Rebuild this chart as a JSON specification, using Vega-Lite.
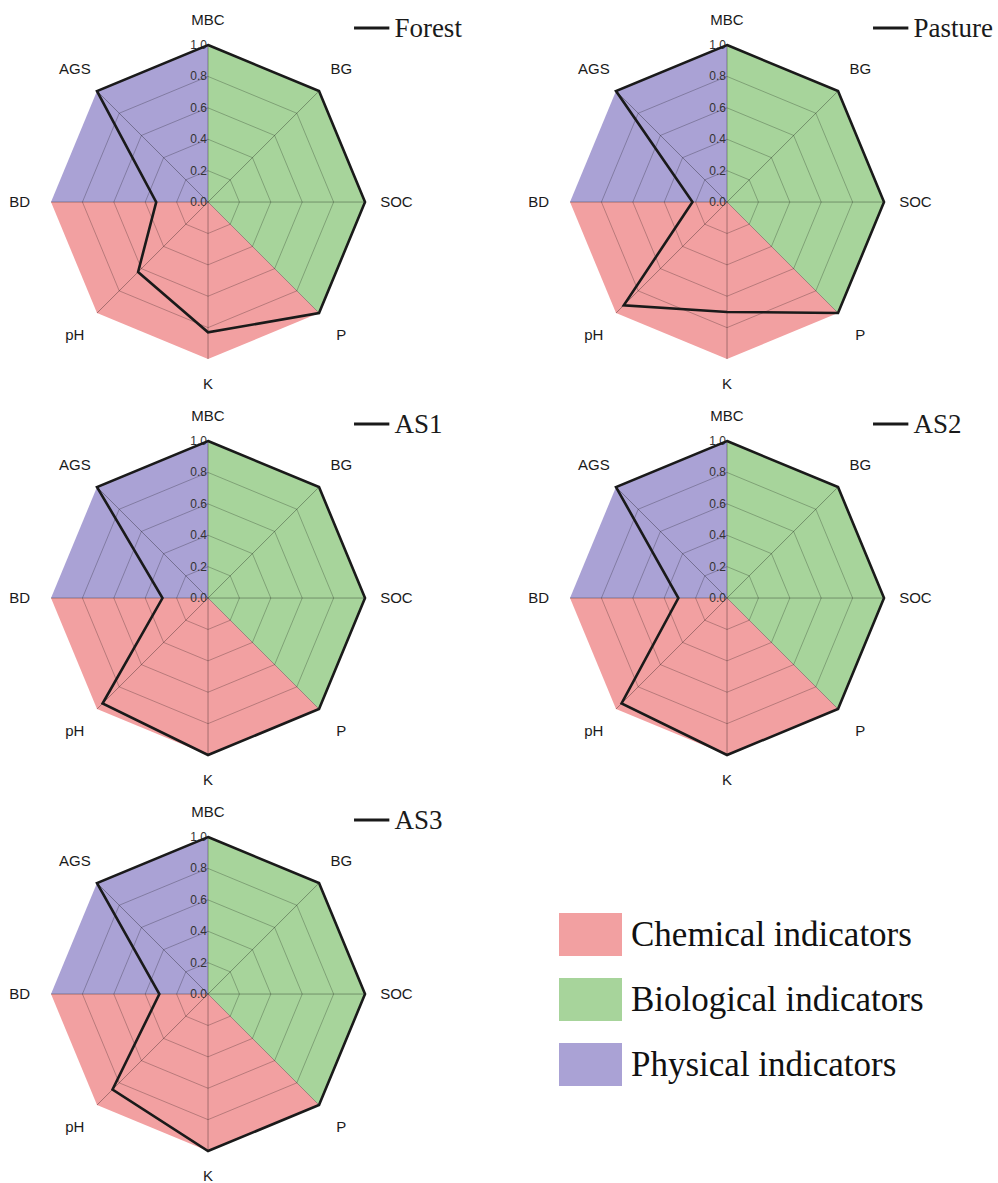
{
"$schema":"https://vega.github.io/schema/vega-lite/v6.json",
"padding":0,
"background":"#ffffff",
"config":{"view":{"stroke":null},"axis":{"disable":true}},
"datasets":{
"axes":[{"axis":"MBC","idx":0},{"axis":"BG","idx":1},{"axis":"SOC","idx":2},{"axis":"P","idx":3},{"axis":"K","idx":4},{"axis":"pH","idx":5},{"axis":"BD","idx":6},{"axis":"AGS","idx":7}],
"sectors":[
{"group":"Biological indicators","seq":0,"axis":"MBC","r":1},{"group":"Biological indicators","seq":1,"axis":"BG","r":1},{"group":"Biological indicators","seq":2,"axis":"SOC","r":1},{"group":"Biological indicators","seq":3,"axis":"P","r":1},{"group":"Biological indicators","seq":4,"axis":"P","r":0},
{"group":"Chemical indicators","seq":0,"axis":"P","r":1},{"group":"Chemical indicators","seq":1,"axis":"K","r":1},{"group":"Chemical indicators","seq":2,"axis":"pH","r":1},{"group":"Chemical indicators","seq":3,"axis":"BD","r":1},{"group":"Chemical indicators","seq":4,"axis":"BD","r":0},
{"group":"Physical indicators","seq":0,"axis":"BD","r":1},{"group":"Physical indicators","seq":1,"axis":"AGS","r":1},{"group":"Physical indicators","seq":2,"axis":"MBC","r":1},{"group":"Physical indicators","seq":3,"axis":"MBC","r":0}],
"grid":[
{"r":0.2,"axis":"MBC"},{"r":0.2,"axis":"BG"},{"r":0.2,"axis":"SOC"},{"r":0.2,"axis":"P"},{"r":0.2,"axis":"K"},{"r":0.2,"axis":"pH"},{"r":0.2,"axis":"BD"},{"r":0.2,"axis":"AGS"},
{"r":0.4,"axis":"MBC"},{"r":0.4,"axis":"BG"},{"r":0.4,"axis":"SOC"},{"r":0.4,"axis":"P"},{"r":0.4,"axis":"K"},{"r":0.4,"axis":"pH"},{"r":0.4,"axis":"BD"},{"r":0.4,"axis":"AGS"},
{"r":0.6,"axis":"MBC"},{"r":0.6,"axis":"BG"},{"r":0.6,"axis":"SOC"},{"r":0.6,"axis":"P"},{"r":0.6,"axis":"K"},{"r":0.6,"axis":"pH"},{"r":0.6,"axis":"BD"},{"r":0.6,"axis":"AGS"},
{"r":0.8,"axis":"MBC"},{"r":0.8,"axis":"BG"},{"r":0.8,"axis":"SOC"},{"r":0.8,"axis":"P"},{"r":0.8,"axis":"K"},{"r":0.8,"axis":"pH"},{"r":0.8,"axis":"BD"},{"r":0.8,"axis":"AGS"}],
"ticks":[{"t":0},{"t":0.2},{"t":0.4},{"t":0.6},{"t":0.8},{"t":1.0}],
"radar":[
{"site":"Forest","axis":"MBC","value":1},{"site":"Forest","axis":"BG","value":1},{"site":"Forest","axis":"SOC","value":1},{"site":"Forest","axis":"P","value":1},{"site":"Forest","axis":"K","value":0.83},{"site":"Forest","axis":"pH","value":0.63},{"site":"Forest","axis":"BD","value":0.33},{"site":"Forest","axis":"AGS","value":1},
{"site":"Pasture","axis":"MBC","value":1},{"site":"Pasture","axis":"BG","value":1},{"site":"Pasture","axis":"SOC","value":1},{"site":"Pasture","axis":"P","value":1},{"site":"Pasture","axis":"K","value":0.70},{"site":"Pasture","axis":"pH","value":0.93},{"site":"Pasture","axis":"BD","value":0.22},{"site":"Pasture","axis":"AGS","value":1},
{"site":"AS1","axis":"MBC","value":1},{"site":"AS1","axis":"BG","value":1},{"site":"AS1","axis":"SOC","value":1},{"site":"AS1","axis":"P","value":1},{"site":"AS1","axis":"K","value":1},{"site":"AS1","axis":"pH","value":0.95},{"site":"AS1","axis":"BD","value":0.29},{"site":"AS1","axis":"AGS","value":1},
{"site":"AS2","axis":"MBC","value":1},{"site":"AS2","axis":"BG","value":1},{"site":"AS2","axis":"SOC","value":1},{"site":"AS2","axis":"P","value":1},{"site":"AS2","axis":"K","value":1},{"site":"AS2","axis":"pH","value":0.95},{"site":"AS2","axis":"BD","value":0.31},{"site":"AS2","axis":"AGS","value":1},
{"site":"AS3","axis":"MBC","value":1},{"site":"AS3","axis":"BG","value":1},{"site":"AS3","axis":"SOC","value":1},{"site":"AS3","axis":"P","value":1},{"site":"AS3","axis":"K","value":1},{"site":"AS3","axis":"pH","value":0.86},{"site":"AS3","axis":"BD","value":0.31},{"site":"AS3","axis":"AGS","value":1}]
},
"columns":2,
"spacing":{"row":4,"column":40},
"bounds":"flush",
"concat":[
{"width":479,"height":392,"layer":[
 {"data":{"name":"sectors"},"transform":[{"lookup":"axis","from":{"data":{"name":"axes"},"key":"axis","fields":["idx"]}},{"calculate":"datum.r*sin(datum.idx*PI/4)","as":"px"},{"calculate":"datum.r*cos(datum.idx*PI/4)","as":"py"}],
  "mark":{"type":"line","filled":true,"interpolate":"linear-closed","strokeWidth":0},
  "encoding":{"x":{"field":"px","type":"quantitative","scale":{"domain":[-1.325,1.726],"nice":false,"zero":false}},"y":{"field":"py","type":"quantitative","scale":{"domain":[-1.21,1.287],"nice":false,"zero":false}},
   "color":{"field":"group","type":"nominal","scale":{"domain":["Chemical indicators","Biological indicators","Physical indicators"],"range":["#F2A0A1","#A7D49B","#AAA2D5"]},
    "legend":{"orient":"none","legendX":559,"legendY":903,"title":null,"symbolType":"M-1,-0.68H1V0.68H-1Z","symbolSize":3969,"symbolStrokeWidth":0,"labelFont":"Liberation Serif","labelFontSize":35,"labelColor":"#111111","labelLimit":600,"labelOffset":9,"rowPadding":12,"padding":0}},
   "order":{"field":"seq","type":"quantitative"}}},
 {"data":{"name":"grid"},"transform":[{"lookup":"axis","from":{"data":{"name":"axes"},"key":"axis","fields":["idx"]}},{"calculate":"datum.r*sin(datum.idx*PI/4)","as":"px"},{"calculate":"datum.r*cos(datum.idx*PI/4)","as":"py"}],
  "mark":{"type":"line","interpolate":"linear-closed","color":"#000000","strokeWidth":0.8,"opacity":0.3},
  "encoding":{"x":{"field":"px","type":"quantitative"},"y":{"field":"py","type":"quantitative"},"detail":{"field":"r","type":"nominal"},"order":{"field":"idx","type":"quantitative"}}},
 {"data":{"name":"axes"},"transform":[{"calculate":"sin(datum.idx*PI/4)","as":"px"},{"calculate":"cos(datum.idx*PI/4)","as":"py"}],
  "mark":{"type":"rule","color":"#000000","strokeWidth":0.8,"opacity":0.4},
  "encoding":{"x":{"field":"px","type":"quantitative"},"y":{"field":"py","type":"quantitative"},"x2":{"datum":0},"y2":{"datum":0}}},
 {"data":{"name":"ticks"},"mark":{"type":"text","align":"right","baseline":"middle","dx":-1,"font":"Liberation Sans","fontSize":12,"color":"#333333"},
  "encoding":{"x":{"datum":0,"type":"quantitative"},"y":{"field":"t","type":"quantitative"},"text":{"field":"t","type":"quantitative","format":".1f"}}},
 {"data":{"name":"axes"},"transform":[{"calculate":"(datum.axis=='MBC'||datum.axis=='K')?1.16:1.2","as":"lr"},{"calculate":"datum.lr*sin(datum.idx*PI/4)","as":"px"},{"calculate":"datum.lr*cos(datum.idx*PI/4)","as":"py"}],
  "mark":{"type":"text","font":"Liberation Sans","fontSize":15,"color":"#1a1a1a","baseline":"middle","align":"center"},
  "encoding":{"x":{"field":"px","type":"quantitative"},"y":{"field":"py","type":"quantitative"},"text":{"field":"axis","type":"nominal"}}},
 {"data":{"name":"radar"},"transform":[{"filter":"datum.site=='Forest'"},{"lookup":"axis","from":{"data":{"name":"axes"},"key":"axis","fields":["idx"]}},{"calculate":"datum.value*sin(datum.idx*PI/4)","as":"px"},{"calculate":"datum.value*cos(datum.idx*PI/4)","as":"py"}],
  "mark":{"type":"line","interpolate":"linear-closed","color":"#1a1a1a","strokeWidth":2.6},
  "encoding":{"x":{"field":"px","type":"quantitative"},"y":{"field":"py","type":"quantitative"},"order":{"field":"idx","type":"quantitative"}}},
 {"data":{"name":"radar"},"transform":[{"filter":"datum.site=='Forest' && datum.axis=='MBC'"}],
  "mark":{"type":"rule","color":"#1a1a1a","strokeWidth":3},
  "encoding":{"x":{"datum":0.93,"type":"quantitative"},"x2":{"datum":1.155},"y":{"datum":1.108,"type":"quantitative"}}},
 {"data":{"name":"radar"},"transform":[{"filter":"datum.site=='Forest' && datum.axis=='MBC'"}],
  "mark":{"type":"text","align":"left","baseline":"alphabetic","font":"Liberation Serif","fontSize":27,"color":"#1a1a1a"},
  "encoding":{"x":{"datum":1.187,"type":"quantitative"},"y":{"datum":1.051,"type":"quantitative"},"text":{"field":"site","type":"nominal"}}}
]},
{"width":479,"height":392,"layer":[
 {"data":{"name":"sectors"},"transform":[{"lookup":"axis","from":{"data":{"name":"axes"},"key":"axis","fields":["idx"]}},{"calculate":"datum.r*sin(datum.idx*PI/4)","as":"px"},{"calculate":"datum.r*cos(datum.idx*PI/4)","as":"py"}],
  "mark":{"type":"line","filled":true,"interpolate":"linear-closed","strokeWidth":0},
  "encoding":{"x":{"field":"px","type":"quantitative","scale":{"domain":[-1.325,1.726],"nice":false,"zero":false}},"y":{"field":"py","type":"quantitative","scale":{"domain":[-1.21,1.287],"nice":false,"zero":false}},
   "color":{"field":"group","type":"nominal","scale":{"domain":["Chemical indicators","Biological indicators","Physical indicators"],"range":["#F2A0A1","#A7D49B","#AAA2D5"]}},
   "order":{"field":"seq","type":"quantitative"}}},
 {"data":{"name":"grid"},"transform":[{"lookup":"axis","from":{"data":{"name":"axes"},"key":"axis","fields":["idx"]}},{"calculate":"datum.r*sin(datum.idx*PI/4)","as":"px"},{"calculate":"datum.r*cos(datum.idx*PI/4)","as":"py"}],
  "mark":{"type":"line","interpolate":"linear-closed","color":"#000000","strokeWidth":0.8,"opacity":0.3},
  "encoding":{"x":{"field":"px","type":"quantitative"},"y":{"field":"py","type":"quantitative"},"detail":{"field":"r","type":"nominal"},"order":{"field":"idx","type":"quantitative"}}},
 {"data":{"name":"axes"},"transform":[{"calculate":"sin(datum.idx*PI/4)","as":"px"},{"calculate":"cos(datum.idx*PI/4)","as":"py"}],
  "mark":{"type":"rule","color":"#000000","strokeWidth":0.8,"opacity":0.4},
  "encoding":{"x":{"field":"px","type":"quantitative"},"y":{"field":"py","type":"quantitative"},"x2":{"datum":0},"y2":{"datum":0}}},
 {"data":{"name":"ticks"},"mark":{"type":"text","align":"right","baseline":"middle","dx":-1,"font":"Liberation Sans","fontSize":12,"color":"#333333"},
  "encoding":{"x":{"datum":0,"type":"quantitative"},"y":{"field":"t","type":"quantitative"},"text":{"field":"t","type":"quantitative","format":".1f"}}},
 {"data":{"name":"axes"},"transform":[{"calculate":"(datum.axis=='MBC'||datum.axis=='K')?1.16:1.2","as":"lr"},{"calculate":"datum.lr*sin(datum.idx*PI/4)","as":"px"},{"calculate":"datum.lr*cos(datum.idx*PI/4)","as":"py"}],
  "mark":{"type":"text","font":"Liberation Sans","fontSize":15,"color":"#1a1a1a","baseline":"middle","align":"center"},
  "encoding":{"x":{"field":"px","type":"quantitative"},"y":{"field":"py","type":"quantitative"},"text":{"field":"axis","type":"nominal"}}},
 {"data":{"name":"radar"},"transform":[{"filter":"datum.site=='Pasture'"},{"lookup":"axis","from":{"data":{"name":"axes"},"key":"axis","fields":["idx"]}},{"calculate":"datum.value*sin(datum.idx*PI/4)","as":"px"},{"calculate":"datum.value*cos(datum.idx*PI/4)","as":"py"}],
  "mark":{"type":"line","interpolate":"linear-closed","color":"#1a1a1a","strokeWidth":2.6},
  "encoding":{"x":{"field":"px","type":"quantitative"},"y":{"field":"py","type":"quantitative"},"order":{"field":"idx","type":"quantitative"}}},
 {"data":{"name":"radar"},"transform":[{"filter":"datum.site=='Pasture' && datum.axis=='MBC'"}],
  "mark":{"type":"rule","color":"#1a1a1a","strokeWidth":3},
  "encoding":{"x":{"datum":0.93,"type":"quantitative"},"x2":{"datum":1.155},"y":{"datum":1.108,"type":"quantitative"}}},
 {"data":{"name":"radar"},"transform":[{"filter":"datum.site=='Pasture' && datum.axis=='MBC'"}],
  "mark":{"type":"text","align":"left","baseline":"alphabetic","font":"Liberation Serif","fontSize":27,"color":"#1a1a1a"},
  "encoding":{"x":{"datum":1.187,"type":"quantitative"},"y":{"datum":1.051,"type":"quantitative"},"text":{"field":"site","type":"nominal"}}}
]},
{"width":479,"height":392,"layer":[
 {"data":{"name":"sectors"},"transform":[{"lookup":"axis","from":{"data":{"name":"axes"},"key":"axis","fields":["idx"]}},{"calculate":"datum.r*sin(datum.idx*PI/4)","as":"px"},{"calculate":"datum.r*cos(datum.idx*PI/4)","as":"py"}],
  "mark":{"type":"line","filled":true,"interpolate":"linear-closed","strokeWidth":0},
  "encoding":{"x":{"field":"px","type":"quantitative","scale":{"domain":[-1.325,1.726],"nice":false,"zero":false}},"y":{"field":"py","type":"quantitative","scale":{"domain":[-1.21,1.287],"nice":false,"zero":false}},
   "color":{"field":"group","type":"nominal","scale":{"domain":["Chemical indicators","Biological indicators","Physical indicators"],"range":["#F2A0A1","#A7D49B","#AAA2D5"]}},
   "order":{"field":"seq","type":"quantitative"}}},
 {"data":{"name":"grid"},"transform":[{"lookup":"axis","from":{"data":{"name":"axes"},"key":"axis","fields":["idx"]}},{"calculate":"datum.r*sin(datum.idx*PI/4)","as":"px"},{"calculate":"datum.r*cos(datum.idx*PI/4)","as":"py"}],
  "mark":{"type":"line","interpolate":"linear-closed","color":"#000000","strokeWidth":0.8,"opacity":0.3},
  "encoding":{"x":{"field":"px","type":"quantitative"},"y":{"field":"py","type":"quantitative"},"detail":{"field":"r","type":"nominal"},"order":{"field":"idx","type":"quantitative"}}},
 {"data":{"name":"axes"},"transform":[{"calculate":"sin(datum.idx*PI/4)","as":"px"},{"calculate":"cos(datum.idx*PI/4)","as":"py"}],
  "mark":{"type":"rule","color":"#000000","strokeWidth":0.8,"opacity":0.4},
  "encoding":{"x":{"field":"px","type":"quantitative"},"y":{"field":"py","type":"quantitative"},"x2":{"datum":0},"y2":{"datum":0}}},
 {"data":{"name":"ticks"},"mark":{"type":"text","align":"right","baseline":"middle","dx":-1,"font":"Liberation Sans","fontSize":12,"color":"#333333"},
  "encoding":{"x":{"datum":0,"type":"quantitative"},"y":{"field":"t","type":"quantitative"},"text":{"field":"t","type":"quantitative","format":".1f"}}},
 {"data":{"name":"axes"},"transform":[{"calculate":"(datum.axis=='MBC'||datum.axis=='K')?1.16:1.2","as":"lr"},{"calculate":"datum.lr*sin(datum.idx*PI/4)","as":"px"},{"calculate":"datum.lr*cos(datum.idx*PI/4)","as":"py"}],
  "mark":{"type":"text","font":"Liberation Sans","fontSize":15,"color":"#1a1a1a","baseline":"middle","align":"center"},
  "encoding":{"x":{"field":"px","type":"quantitative"},"y":{"field":"py","type":"quantitative"},"text":{"field":"axis","type":"nominal"}}},
 {"data":{"name":"radar"},"transform":[{"filter":"datum.site=='AS1'"},{"lookup":"axis","from":{"data":{"name":"axes"},"key":"axis","fields":["idx"]}},{"calculate":"datum.value*sin(datum.idx*PI/4)","as":"px"},{"calculate":"datum.value*cos(datum.idx*PI/4)","as":"py"}],
  "mark":{"type":"line","interpolate":"linear-closed","color":"#1a1a1a","strokeWidth":2.6},
  "encoding":{"x":{"field":"px","type":"quantitative"},"y":{"field":"py","type":"quantitative"},"order":{"field":"idx","type":"quantitative"}}},
 {"data":{"name":"radar"},"transform":[{"filter":"datum.site=='AS1' && datum.axis=='MBC'"}],
  "mark":{"type":"rule","color":"#1a1a1a","strokeWidth":3},
  "encoding":{"x":{"datum":0.93,"type":"quantitative"},"x2":{"datum":1.155},"y":{"datum":1.108,"type":"quantitative"}}},
 {"data":{"name":"radar"},"transform":[{"filter":"datum.site=='AS1' && datum.axis=='MBC'"}],
  "mark":{"type":"text","align":"left","baseline":"alphabetic","font":"Liberation Serif","fontSize":27,"color":"#1a1a1a"},
  "encoding":{"x":{"datum":1.187,"type":"quantitative"},"y":{"datum":1.051,"type":"quantitative"},"text":{"field":"site","type":"nominal"}}}
]},
{"width":479,"height":392,"layer":[
 {"data":{"name":"sectors"},"transform":[{"lookup":"axis","from":{"data":{"name":"axes"},"key":"axis","fields":["idx"]}},{"calculate":"datum.r*sin(datum.idx*PI/4)","as":"px"},{"calculate":"datum.r*cos(datum.idx*PI/4)","as":"py"}],
  "mark":{"type":"line","filled":true,"interpolate":"linear-closed","strokeWidth":0},
  "encoding":{"x":{"field":"px","type":"quantitative","scale":{"domain":[-1.325,1.726],"nice":false,"zero":false}},"y":{"field":"py","type":"quantitative","scale":{"domain":[-1.21,1.287],"nice":false,"zero":false}},
   "color":{"field":"group","type":"nominal","scale":{"domain":["Chemical indicators","Biological indicators","Physical indicators"],"range":["#F2A0A1","#A7D49B","#AAA2D5"]}},
   "order":{"field":"seq","type":"quantitative"}}},
 {"data":{"name":"grid"},"transform":[{"lookup":"axis","from":{"data":{"name":"axes"},"key":"axis","fields":["idx"]}},{"calculate":"datum.r*sin(datum.idx*PI/4)","as":"px"},{"calculate":"datum.r*cos(datum.idx*PI/4)","as":"py"}],
  "mark":{"type":"line","interpolate":"linear-closed","color":"#000000","strokeWidth":0.8,"opacity":0.3},
  "encoding":{"x":{"field":"px","type":"quantitative"},"y":{"field":"py","type":"quantitative"},"detail":{"field":"r","type":"nominal"},"order":{"field":"idx","type":"quantitative"}}},
 {"data":{"name":"axes"},"transform":[{"calculate":"sin(datum.idx*PI/4)","as":"px"},{"calculate":"cos(datum.idx*PI/4)","as":"py"}],
  "mark":{"type":"rule","color":"#000000","strokeWidth":0.8,"opacity":0.4},
  "encoding":{"x":{"field":"px","type":"quantitative"},"y":{"field":"py","type":"quantitative"},"x2":{"datum":0},"y2":{"datum":0}}},
 {"data":{"name":"ticks"},"mark":{"type":"text","align":"right","baseline":"middle","dx":-1,"font":"Liberation Sans","fontSize":12,"color":"#333333"},
  "encoding":{"x":{"datum":0,"type":"quantitative"},"y":{"field":"t","type":"quantitative"},"text":{"field":"t","type":"quantitative","format":".1f"}}},
 {"data":{"name":"axes"},"transform":[{"calculate":"(datum.axis=='MBC'||datum.axis=='K')?1.16:1.2","as":"lr"},{"calculate":"datum.lr*sin(datum.idx*PI/4)","as":"px"},{"calculate":"datum.lr*cos(datum.idx*PI/4)","as":"py"}],
  "mark":{"type":"text","font":"Liberation Sans","fontSize":15,"color":"#1a1a1a","baseline":"middle","align":"center"},
  "encoding":{"x":{"field":"px","type":"quantitative"},"y":{"field":"py","type":"quantitative"},"text":{"field":"axis","type":"nominal"}}},
 {"data":{"name":"radar"},"transform":[{"filter":"datum.site=='AS2'"},{"lookup":"axis","from":{"data":{"name":"axes"},"key":"axis","fields":["idx"]}},{"calculate":"datum.value*sin(datum.idx*PI/4)","as":"px"},{"calculate":"datum.value*cos(datum.idx*PI/4)","as":"py"}],
  "mark":{"type":"line","interpolate":"linear-closed","color":"#1a1a1a","strokeWidth":2.6},
  "encoding":{"x":{"field":"px","type":"quantitative"},"y":{"field":"py","type":"quantitative"},"order":{"field":"idx","type":"quantitative"}}},
 {"data":{"name":"radar"},"transform":[{"filter":"datum.site=='AS2' && datum.axis=='MBC'"}],
  "mark":{"type":"rule","color":"#1a1a1a","strokeWidth":3},
  "encoding":{"x":{"datum":0.93,"type":"quantitative"},"x2":{"datum":1.155},"y":{"datum":1.108,"type":"quantitative"}}},
 {"data":{"name":"radar"},"transform":[{"filter":"datum.site=='AS2' && datum.axis=='MBC'"}],
  "mark":{"type":"text","align":"left","baseline":"alphabetic","font":"Liberation Serif","fontSize":27,"color":"#1a1a1a"},
  "encoding":{"x":{"datum":1.187,"type":"quantitative"},"y":{"datum":1.051,"type":"quantitative"},"text":{"field":"site","type":"nominal"}}}
]},
{"width":479,"height":392,"layer":[
 {"data":{"name":"sectors"},"transform":[{"lookup":"axis","from":{"data":{"name":"axes"},"key":"axis","fields":["idx"]}},{"calculate":"datum.r*sin(datum.idx*PI/4)","as":"px"},{"calculate":"datum.r*cos(datum.idx*PI/4)","as":"py"}],
  "mark":{"type":"line","filled":true,"interpolate":"linear-closed","strokeWidth":0},
  "encoding":{"x":{"field":"px","type":"quantitative","scale":{"domain":[-1.325,1.726],"nice":false,"zero":false}},"y":{"field":"py","type":"quantitative","scale":{"domain":[-1.21,1.287],"nice":false,"zero":false}},
   "color":{"field":"group","type":"nominal","scale":{"domain":["Chemical indicators","Biological indicators","Physical indicators"],"range":["#F2A0A1","#A7D49B","#AAA2D5"]}},
   "order":{"field":"seq","type":"quantitative"}}},
 {"data":{"name":"grid"},"transform":[{"lookup":"axis","from":{"data":{"name":"axes"},"key":"axis","fields":["idx"]}},{"calculate":"datum.r*sin(datum.idx*PI/4)","as":"px"},{"calculate":"datum.r*cos(datum.idx*PI/4)","as":"py"}],
  "mark":{"type":"line","interpolate":"linear-closed","color":"#000000","strokeWidth":0.8,"opacity":0.3},
  "encoding":{"x":{"field":"px","type":"quantitative"},"y":{"field":"py","type":"quantitative"},"detail":{"field":"r","type":"nominal"},"order":{"field":"idx","type":"quantitative"}}},
 {"data":{"name":"axes"},"transform":[{"calculate":"sin(datum.idx*PI/4)","as":"px"},{"calculate":"cos(datum.idx*PI/4)","as":"py"}],
  "mark":{"type":"rule","color":"#000000","strokeWidth":0.8,"opacity":0.4},
  "encoding":{"x":{"field":"px","type":"quantitative"},"y":{"field":"py","type":"quantitative"},"x2":{"datum":0},"y2":{"datum":0}}},
 {"data":{"name":"ticks"},"mark":{"type":"text","align":"right","baseline":"middle","dx":-1,"font":"Liberation Sans","fontSize":12,"color":"#333333"},
  "encoding":{"x":{"datum":0,"type":"quantitative"},"y":{"field":"t","type":"quantitative"},"text":{"field":"t","type":"quantitative","format":".1f"}}},
 {"data":{"name":"axes"},"transform":[{"calculate":"(datum.axis=='MBC'||datum.axis=='K')?1.16:1.2","as":"lr"},{"calculate":"datum.lr*sin(datum.idx*PI/4)","as":"px"},{"calculate":"datum.lr*cos(datum.idx*PI/4)","as":"py"}],
  "mark":{"type":"text","font":"Liberation Sans","fontSize":15,"color":"#1a1a1a","baseline":"middle","align":"center"},
  "encoding":{"x":{"field":"px","type":"quantitative"},"y":{"field":"py","type":"quantitative"},"text":{"field":"axis","type":"nominal"}}},
 {"data":{"name":"radar"},"transform":[{"filter":"datum.site=='AS3'"},{"lookup":"axis","from":{"data":{"name":"axes"},"key":"axis","fields":["idx"]}},{"calculate":"datum.value*sin(datum.idx*PI/4)","as":"px"},{"calculate":"datum.value*cos(datum.idx*PI/4)","as":"py"}],
  "mark":{"type":"line","interpolate":"linear-closed","color":"#1a1a1a","strokeWidth":2.6},
  "encoding":{"x":{"field":"px","type":"quantitative"},"y":{"field":"py","type":"quantitative"},"order":{"field":"idx","type":"quantitative"}}},
 {"data":{"name":"radar"},"transform":[{"filter":"datum.site=='AS3' && datum.axis=='MBC'"}],
  "mark":{"type":"rule","color":"#1a1a1a","strokeWidth":3},
  "encoding":{"x":{"datum":0.93,"type":"quantitative"},"x2":{"datum":1.155},"y":{"datum":1.108,"type":"quantitative"}}},
 {"data":{"name":"radar"},"transform":[{"filter":"datum.site=='AS3' && datum.axis=='MBC'"}],
  "mark":{"type":"text","align":"left","baseline":"alphabetic","font":"Liberation Serif","fontSize":27,"color":"#1a1a1a"},
  "encoding":{"x":{"datum":1.187,"type":"quantitative"},"y":{"datum":1.051,"type":"quantitative"},"text":{"field":"site","type":"nominal"}}}
]}
]
}
